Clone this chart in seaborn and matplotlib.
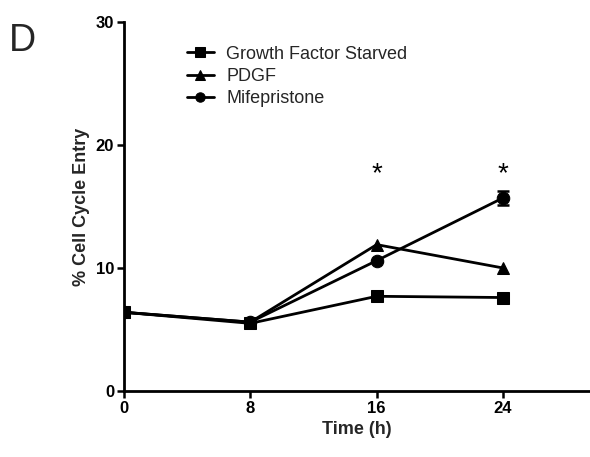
import matplotlib
matplotlib.use("Agg")
import matplotlib.pyplot as plt
import seaborn as sns
import pandas as pd
import numpy as np
from matplotlib import font_manager

# ---- data ----
time_h = [0, 8, 16, 24]
starved = [6.4, 5.5, 7.7, 7.6]
pdgf = [6.4, 5.6, 11.9, 10.0]
mifepristone = [6.4, 5.6, 10.6, 15.7]
mife_err = [0.0, 0.0, 0.0, 0.55]
series_names = ["Growth Factor Starved", "PDGF", "Mifepristone"]
x_ticks = [0, 8, 16, 24]
y_ticks = [0, 10, 20, 30]
star_times = [16, 24]
star_level = 17.6

sns.set_theme(style="ticks")
fams = [f.name for f in font_manager.fontManager.ttflist]
fam = "Liberation Sans Narrow" if "Liberation Sans Narrow" in fams else "Liberation Sans"
plt.rcParams["font.family"] = [fam, "DejaVu Sans"]

fig = plt.figure(figsize=(5.9, 4.57), dpi=100)
ax = fig.add_axes([0.210, 0.1444, 0.79, 0.8075])

df = pd.DataFrame({
    "time": time_h * 3,
    "value": starved + pdgf + mifepristone,
    "series": [series_names[0]] * 4 + [series_names[1]] * 4 + [series_names[2]] * 4,
})

markers = {series_names[0]: "s", series_names[1]: "^", series_names[2]: "o"}
# draw so squares end up on top
for name, z in [(series_names[2], 3), (series_names[1], 4), (series_names[0], 5)]:
    sub = df[df["series"] == name]
    sns.lineplot(data=sub, x="time", y="value", ax=ax, color="black",
                 marker=markers[name], markersize=9, markeredgecolor="black",
                 linewidth=2, label=name, zorder=z)

ax.errorbar(time_h, mifepristone, yerr=mife_err, fmt="none", ecolor="black",
            elinewidth=1.8, capsize=4, capthick=1.8, zorder=3)

for t in star_times:
    ax.text(t, star_level, "*", ha="center", va="center", fontsize=20,
            color="black")

ax.set_xlim(0, 29.5)
ax.set_ylim(0, 30)
ax.set_xticks(x_ticks)
ax.set_yticks(y_ticks)
for lab in ax.get_xticklabels() + ax.get_yticklabels():
    lab.set_fontweight("bold")
    lab.set_fontsize(12)
ax.tick_params(axis="both", direction="out", length=5, width=1.8, colors="black", pad=2)
ax.set_xlabel("Time (h)", fontsize=13, fontweight="bold", labelpad=4)
ax.set_ylabel("% Cell Cycle Entry", fontsize=13, fontweight="bold", labelpad=4)
sns.despine(ax=ax)
for s in ["left", "bottom"]:
    ax.spines[s].set_linewidth(2)
    ax.spines[s].set_color("black")

h, l = ax.get_legend_handles_labels()
order = [l.index(n) for n in series_names]
ax.legend([h[i] for i in order], [l[i] for i in order], loc="upper left",
          bbox_to_anchor=(0.1, 0.98), frameon=False, fontsize=13,
          handlelength=1.5, handletextpad=0.7, markerscale=0.75,
          labelspacing=0.3)

fig.text(0.015, 0.91, "D", fontsize=27, ha="left", va="center")

fig.savefig("out.png", dpi=100)
